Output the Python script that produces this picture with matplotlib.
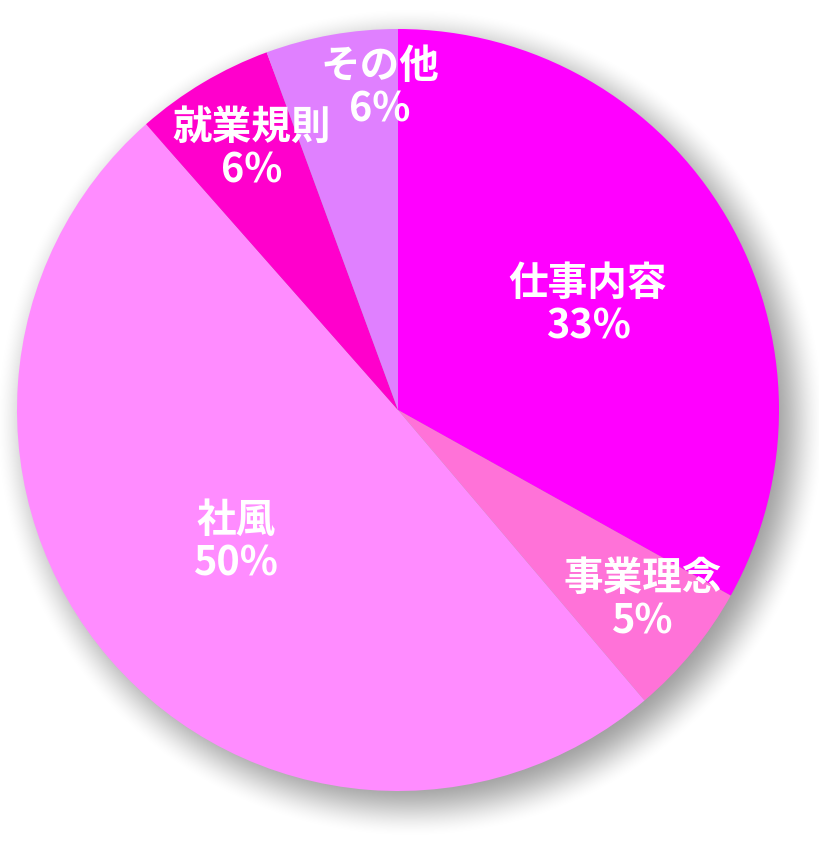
import numpy as np
import matplotlib
matplotlib.use("Agg")
import matplotlib.pyplot as plt

plt.rcParams['font.family'] = ['Noto Sans CJK JP', 'DejaVu Sans']

categories = ['仕事内容', '事業理念', '社風', '就業規則', 'その他']
values = [33.1, 5.7, 49.7, 5.9, 5.6]
pct_labels = ['33%', '5%', '50%', '6%', '6%']
colors = ['#FF00FF', '#FF72D8', '#FF8CFF', '#FF00CC', '#E080FF']

W, H = 820, 843
CX, CY, R = 398, 410, 381
label_pos = [(588, 305), (643, 600), (236, 542), (252, 149), (380, 88)]

fig = plt.figure(figsize=(W / 100, H / 100), dpi=100)
ax = fig.add_axes([0, 0, 1, 1])
ax.set_xlim(0, W)
ax.set_ylim(0, H)
ax.set_aspect('equal')
ax.axis('off')

# soft shadow
yy, xx = np.mgrid[0:H, 0:W]
d = np.hypot(xx - (CX + 12), yy - (CY + 12))
t = np.clip((d - (R - 25)) / 60.0, 0, 1)
alpha = 0.38 * (1 - (3 * t**2 - 2 * t**3))
img = np.zeros((H, W, 4))
img[..., 3] = alpha
ax.imshow(img, extent=(0, W, 0, H), origin='upper', zorder=0, interpolation='bilinear')

ax.pie(values, colors=colors, startangle=90, counterclock=False,
       center=(CX, H - CY), radius=R, frame=True,
       wedgeprops=dict(linewidth=0, zorder=1))
ax.set_xlim(0, W)
ax.set_ylim(0, H)
ax.axis('off')

for cat, pct, (x, y) in zip(categories, pct_labels, label_pos):
    ax.text(x, H - y, f'{cat}\n{pct}', ha='center', va='center', color='white',
            fontsize=28.5, fontweight='bold', linespacing=1.08, zorder=3)

fig.savefig('out.png', dpi=100)
